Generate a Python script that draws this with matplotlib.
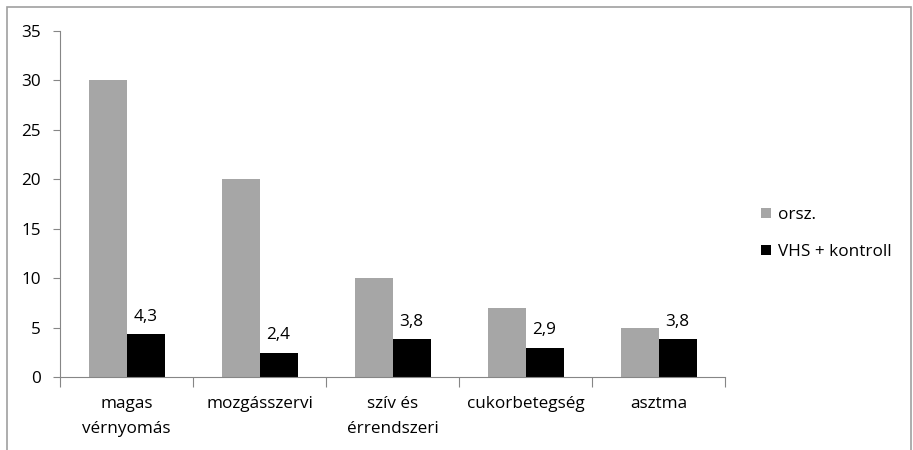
import matplotlib
matplotlib.use("Agg")
import matplotlib.pyplot as plt
from matplotlib.patches import Rectangle
import numpy as np

categories = ["magas\nvérnyomás", "mozgásszervi", "szív és\nérrendszeri", "cukorbetegség", "asztma"]
orsz = [30, 20, 10, 7, 5]
vhs = [4.3, 2.4, 3.8, 2.9, 3.8]
vhs_labels = ["4,3", "2,4", "3,8", "2,9", "3,8"]
series_names = ["orsz.", "VHS + kontroll"]

plt.rcParams['font.family'] = ['Open Sans', 'DejaVu Sans']
FS = 12.3
W, H = 913, 450
fig = plt.figure(figsize=(W/100, H/100), dpi=100)
ax = fig.add_axes([60/W, 1-377/H, (725-60)/W, (377-31)/H])

x = np.arange(len(categories))
w = 1/3.5
ax.bar(x - w/2, orsz, width=w, color="#a6a6a6", label=series_names[0])
ax.bar(x + w/2, vhs, width=w, color="#000000", label=series_names[1])
for xi, v, lab in zip(x, vhs, vhs_labels):
    ax.text(xi + w/2, v + 1.0, lab, ha="center", va="bottom", fontsize=FS, color="#000000")

ax.set_xlim(-0.5, len(categories)-0.5)
ax.set_ylim(0, 35)
ax.set_yticks(range(0, 36, 5))
ax.set_yticklabels([str(v) for v in range(0, 36, 5)], fontsize=FS)
ax.set_xticks(np.arange(-0.5, len(categories), 1))
ax.set_xticklabels([])
ax.set_xticks(x, minor=True)
ax.set_xticklabels(categories, minor=True, fontsize=FS, linespacing=1.7)
ax.tick_params(axis="x", which="minor", length=0, pad=14)
ax.tick_params(axis="x", which="major", length=7, color="#868686", direction="out")
ax.tick_params(axis="y", length=5, color="#868686", direction="out", pad=9)
for s in ["top", "right"]:
    ax.spines[s].set_visible(False)
for s in ["left", "bottom"]:
    ax.spines[s].set_color("#868686")

leg = ax.legend(loc="upper left", bbox_to_anchor=(746/W, 1-192/H), bbox_transform=fig.transFigure,
                frameon=False, fontsize=FS, handlelength=0.55, handleheight=0.55,
                handletextpad=0.4, labelspacing=1.2)

fig.patches.append(Rectangle((7/W, -0.1), (W-7-2)/W, (H-7)/H + 0.1, transform=fig.transFigure,
                             fill=False, edgecolor="#a0a0a0", linewidth=1.2))
fig.savefig("out.png", dpi=100, facecolor="white")
